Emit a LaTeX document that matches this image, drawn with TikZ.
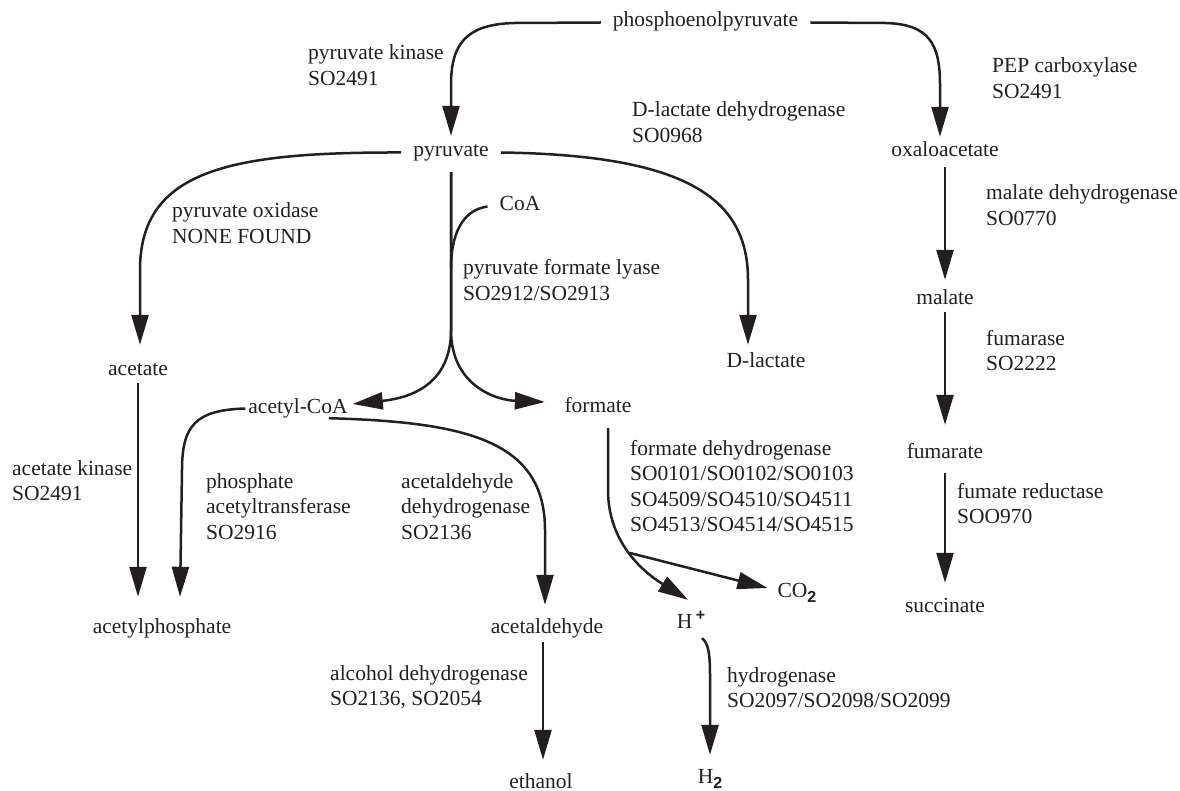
\documentclass[tikz,border=0pt]{standalone}
\usepackage{fontspec}
\setmainfont{Liberation Serif}
\setsansfont{Liberation Sans}
\usetikzlibrary{arrows.meta}
\definecolor{ink}{RGB}{35,31,32}
\newcommand\mylines[1]{\begin{tabular}[t]{@{}l@{}}#1\end{tabular}}
\newcommand\subtwo{\raisebox{-5pt}{\sffamily\bfseries\fontsize{16}{16}\selectfont 2}}
\newcommand\supplus{\raisebox{8pt}{\sffamily\bfseries\fontsize{16}{16}\selectfont +}}
\begin{document}
\begin{tikzpicture}[x=1pt,y=-1pt,
  met/.style={anchor=base, inner xsep=12pt, inner ysep=0pt, text height=14pt, text depth=5pt, text=ink, font=\fontsize{21.5}{25.5}\selectfont},
  lab/.style={anchor=base west, inner sep=0pt, text=ink, font=\fontsize{21.5}{25.5}\selectfont},
  conn/.style={line width=2.5pt, draw=ink},
  arr/.style={conn, -{Triangle[length=30pt,width=17pt]}}]
\fill[white] (0,0) rectangle (1180,791);
\useasboundingbox (0,0) rectangle (1180,791);
% metabolites
\node[met] (pep) at (705.5,27) {phosphoenolpyruvate};
\node[met] (pyr) at (451,157) {pyruvate};
\node[met] (oaa) at (945,157) {oxaloacetate};
\node[met] (coa) at (520,211) {CoA};
\node[met] (mal) at (945,305) {malate};
\node[met] (dlac) at (766,367) {D-lactate};
\node[met] (ace) at (138,375) {acetate};
\node[met] (acoa) at (298,413) {acetyl-CoA};
\node[met] (form) at (598,412) {formate};
\node[met] (fum) at (945,458) {fumarate};
\node[met] (succ) at (945,612) {succinate};
\node[met] (acp) at (162,633) {acetylphosphate};
\node[met] (acald) at (547,633) {acetaldehyde};
\node[met] (eth) at (541,788) {ethanol};
\node[met] (hp) at (691,628) {H\,\supplus};
\node[met] (co2) at (797,597) {CO\subtwo};
\node[met] (h2) at (710,783) {H\subtwo};
% enzyme labels
\node[lab] (l1) at (308,60) {\mylines{pyruvate kinase\\SO2491}};
\node[lab] (l2) at (992,73) {\mylines{PEP carboxylase\\SO2491}};
\node[lab] (l3) at (632,117) {\mylines{D-lactate dehydrogenase\\SO0968}};
\node[lab] (l4) at (172,218) {\mylines{pyruvate oxidase\\NONE FOUND}};
\node[lab] (l5) at (986,200) {\mylines{malate dehydrogenase\\SO0770}};
\node[lab] (l6) at (463,275) {\mylines{pyruvate formate lyase\\SO2912/SO2913}};
\node[lab] (l7) at (986,345) {\mylines{fumarase\\SO2222}};
\node[lab] (l8) at (630,455) {\mylines{formate dehydrogenase\\SO0101/SO0102/SO0103\\SO4509/SO4510/SO4511\\SO4513/SO4514/SO4515}};
\node[lab] (l9) at (12,475) {\mylines{acetate kinase\\SO2491}};
\node[lab] (l10) at (206,488) {\mylines{phosphate\\acetyltransferase\\SO2916}};
\node[lab] (l11) at (401,488) {\mylines{acetaldehyde\\dehydrogenase\\SO2136}};
\node[lab] (l12) at (957,498) {\mylines{fumate reductase\\SOO970}};
\node[lab] (l13) at (330,680) {\mylines{alcohol dehydrogenase\\SO2136, SO2054}};
\node[lab] (l14) at (727,682) {\mylines{hydrogenase\\SO2097/SO2098/SO2099}};
% connectors
\draw[arr] (pep.west) -- (515,23) .. controls (465,24) and (451,45) .. (451,85) -- ([yshift=7pt]pyr.north);
\draw[arr] (pep.east) -- (885,23) .. controls (930,24) and (940,45) .. (940,85) -- ([xshift=-5pt,yshift=6pt]oaa.north);
\draw[arr] (pyr.west) .. controls (230,152) and (140,170) .. (140,270) -- ([xshift=2pt,yshift=16pt]ace.north);
\draw[arr] (pyr.east) .. controls (690,155) and (748,200) .. (748,280) -- ([xshift=-18pt,yshift=8pt]dlac.north);
\draw[arr] ([yshift=-10pt]pyr.south) -- (451,330) .. controls (451,385) and (410,398) .. ([xshift=-7pt,yshift=4.5pt]acoa.east);
\draw[arr] ([yshift=-10pt]pyr.south) -- (451,330) .. controls (451,385) and (495,400) .. ([xshift=-7.5pt,yshift=5.5pt]form.west);
\coordinate (j1) at (451,268);
\draw[conn] (coa.west) .. controls (462,210) and (451,235) .. (j1);
\draw[arr] ([yshift=-3pt]ace.south) -- ([xshift=-24pt,yshift=22pt]acp.north);
\draw[arr] ([xshift=9pt]acoa.west) .. controls (196,410) and (182,425) .. (182,470) -- ([xshift=18pt,yshift=22pt]acp.north);
\draw[arr] ([xshift=-31pt]acoa.south east) .. controls (465,422) and (545,440) .. (545,530) -- ([xshift=-2pt,yshift=14pt]acald.north);
\draw[arr] ([xshift=-4pt,yshift=-4pt]acald.south) -- ([xshift=2pt,yshift=14pt]eth.north);
\draw[arr] ([xshift=10pt,yshift=-11pt]form.south) -- (608,490) .. controls (608,540) and (640,570) .. ([xshift=-3pt,yshift=14pt]hp.north);
\coordinate (j2) at (630,553);
\draw[arr] (j2) -- ([xshift=2pt,yshift=4.5pt]co2.west);
\draw[arr] ([xshift=11pt,yshift=-5pt]hp.south) .. controls (708,643) and (710,652) .. (710,675) -- ([yshift=14pt]h2.north);
\draw[arr] ([yshift=-5pt]oaa.south) -- ([yshift=11pt]mal.north);
\draw[arr] ([yshift=-2pt]mal.south) -- ([yshift=19pt]fum.north);
\draw[arr] ([yshift=-10pt]fum.south) -- ([yshift=15pt]succ.north);
\end{tikzpicture}
\end{document}
